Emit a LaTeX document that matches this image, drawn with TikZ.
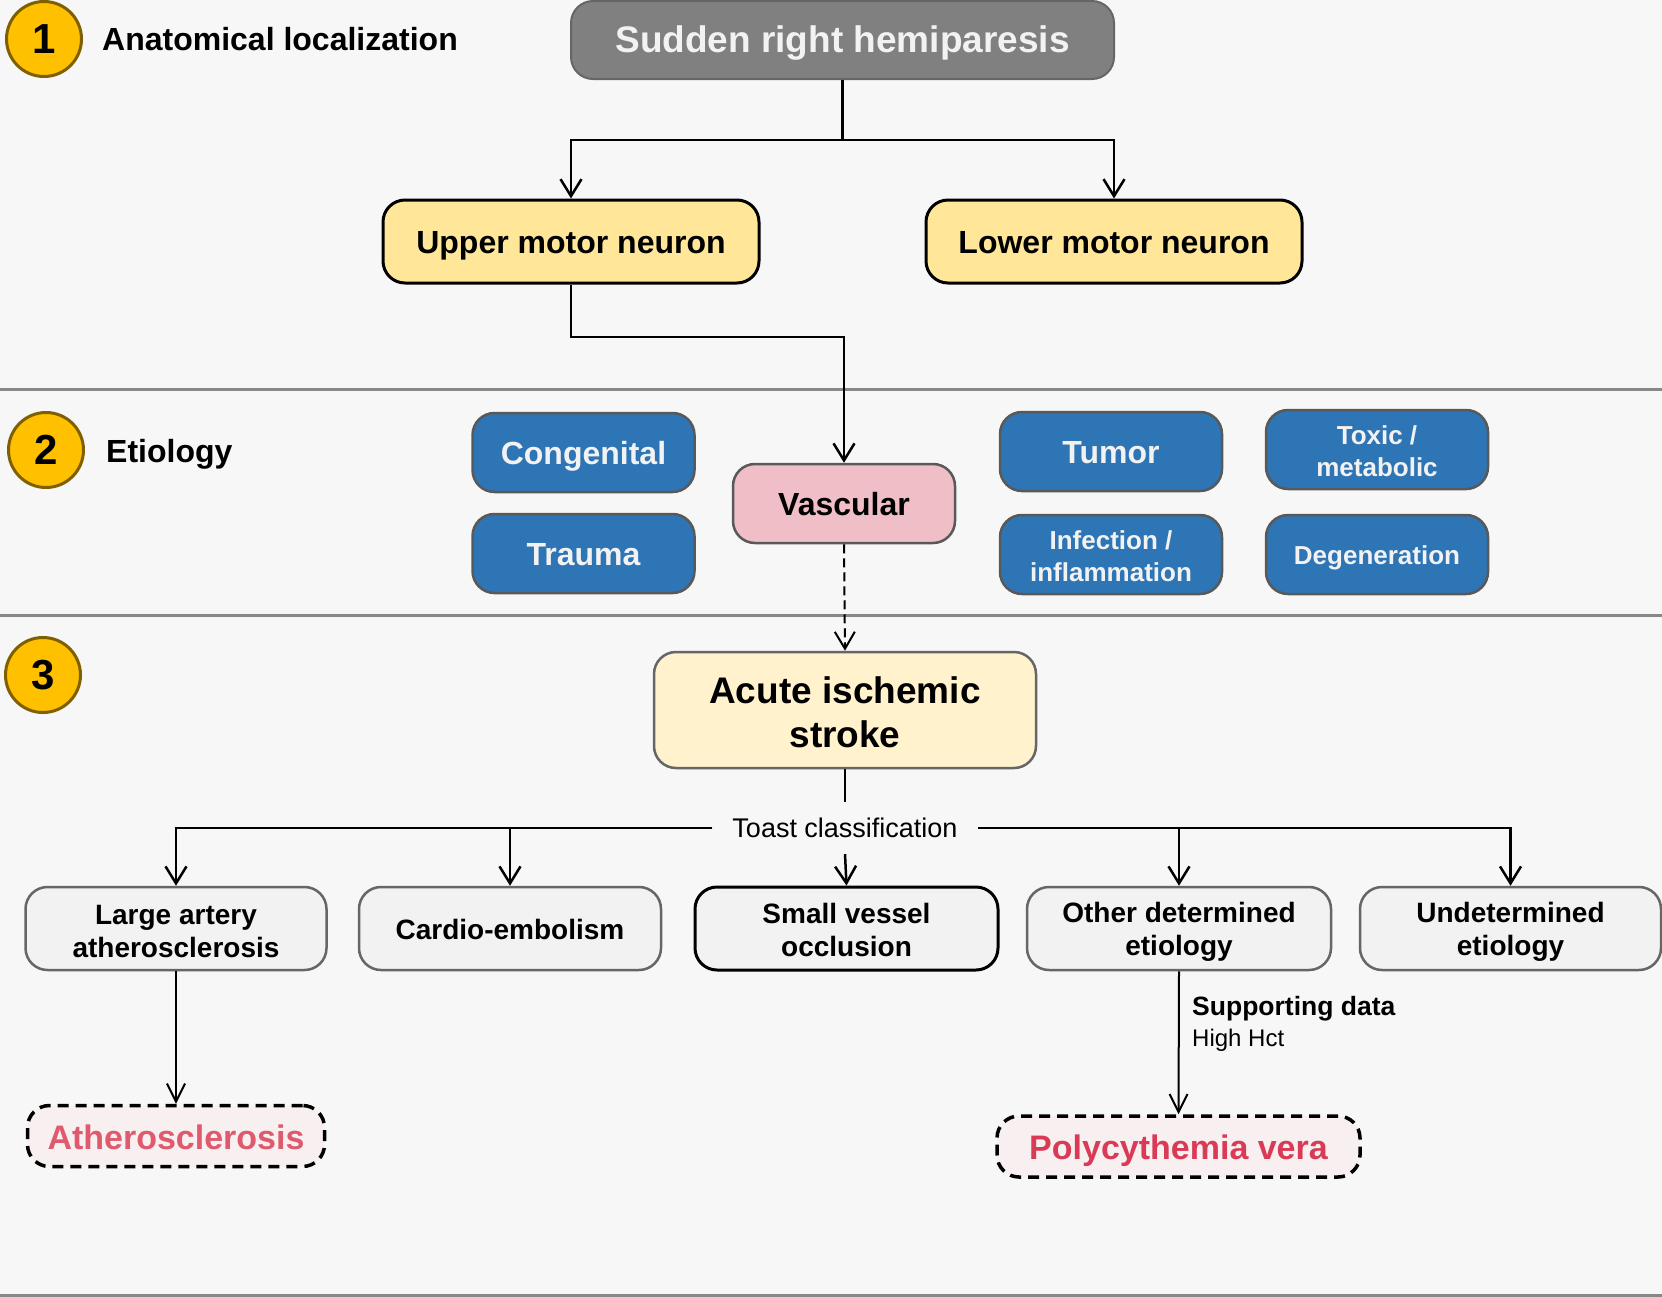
\documentclass[tikz,border=0pt]{standalone}
\usepackage{fontspec}
\setmainfont{Liberation Sans}
\usetikzlibrary{arrows.meta}

\definecolor{paper}{HTML}{F7F7F7}
\definecolor{rule}{HTML}{888888}
\definecolor{badgefill}{HTML}{FFC000}
\definecolor{badgeline}{HTML}{7F6000}
\definecolor{greybox}{HTML}{808080}
\definecolor{greyline}{HTML}{666666}
\definecolor{neuron}{HTML}{FFE699}
\definecolor{vasc}{HTML}{F0BEC6}
\definecolor{bluebox}{HTML}{2E75B6}
\definecolor{darkline}{HTML}{595959}
\definecolor{stroke}{HTML}{FFF2CC}
\definecolor{toast}{HTML}{F2F2F2}
\definecolor{dxfill}{HTML}{F7EFF0}
\definecolor{athred}{HTML}{E05A6E}
\definecolor{polyred}{HTML}{D93A56}
\definecolor{lighttext}{HTML}{F2F2F2}

% invisible strut that deepens the first line of a two-line label
\newcommand\firstline[1]{\rule{0pt}{#1em}}

\begin{document}
\begin{tikzpicture}[x=1pt,y=-1pt,
  box/.style={draw, rounded corners=22pt, align=center, inner sep=0pt},
  % single-line labels: centre the capitals, ignore descenders
  oneline/.style={text height=#1, text depth=0pt},
  badge/.style={circle, draw=badgeline, fill=badgefill, line width=3pt,
    minimum size=75pt, inner sep=0pt,
    font=\bfseries\fontsize{42}{50}\selectfont},
  heading/.style={anchor=base west, inner sep=0pt, font=\bfseries\fontsize{32}{38}\selectfont},
  topbox/.style={box, oneline=25.5pt, fill=greybox, draw=greyline, line width=2pt,
    minimum width=543pt, minimum height=78pt, text=lighttext,
    font=\bfseries\fontsize{37}{44}\selectfont},
  neuronbox/.style={box, oneline=24.8pt, fill=neuron, draw=black, line width=3pt,
    minimum width=376pt, minimum height=83pt,
    font=\bfseries\fontsize{32}{38}\selectfont},
  causebox/.style={box, fill=bluebox, draw=darkline, line width=2.5pt,
    minimum width=222pt, minimum height=79pt, text=lighttext},
  bigcause/.style={causebox, oneline=24.8pt, font=\bfseries\fontsize{32}{38}\selectfont},
  smallcause/.style={causebox, font=\bfseries\fontsize{26}{32}\selectfont},
  vascbox/.style={box, oneline=24.8pt, fill=vasc, draw=darkline, line width=2.5pt,
    minimum width=222pt, minimum height=79pt,
    font=\bfseries\fontsize{32}{38}\selectfont},
  strokebox/.style={box, fill=stroke, draw=greyline, line width=2.5pt,
    minimum width=382pt, minimum height=116pt,
    font=\bfseries\fontsize{37}{44.5}\selectfont},
  toastbox/.style={box, fill=toast, draw=greyline, line width=2.5pt,
    minimum width=302pt, minimum height=83pt,
    font=\bfseries\fontsize{28}{33}\selectfont},
  dxbox/.style={box, oneline=26.4pt, fill=dxfill, draw=black, line width=3.5pt,
    dash pattern=on 11pt off 7pt, minimum height=61pt,
    font=\bfseries\fontsize{34}{40}\selectfont},
  link/.style={draw=black, line width=2.5pt},
  arr/.style={link, -{Straight Barb[length=17pt,width=21pt]}},
  thinarr/.style={draw=black, line width=2pt, -{Straight Barb[length=18pt,width=18pt]}},
  sep/.style={draw=rule, line width=3pt}
]
\fill[paper] (0,0) rectangle (1662,1296);
\useasboundingbox (0,0) rectangle (1662,1296);

% section rules
\draw[sep] (0,389) -- (1662,389);
\draw[sep] (0,615) -- (1662,615);
\draw[sep] (0,1295) -- (1662,1295);

% section 1: anatomical localization
\node[badge] (b1) at (44,39) {1};
\node[heading] (h1) at (102,50) {Anatomical localization};
\node[topbox] (top) at (842.5,40) {Sudden right hemiparesis};
\node[neuronbox] (umn) at (571,241.5) {Upper motor neuron};
\node[neuronbox] (lmn) at (1114,241.5) {Lower motor neuron};

\coordinate (split) at (842.5,140);
\draw[link] (top.south) -- (split);
\draw[arr] (split) -| (umn.north);
\draw[arr] (split) -| (lmn.north);

% section 2: etiology
\node[badge] (b2) at (46,450) {2};
\node[heading] (h2) at (106,462) {Etiology};
\node[bigcause] (cong) at (583.5,452.5) {Congenital};
\node[bigcause] (trauma) at (583.5,553.5) {Trauma};
\node[vascbox] (vasc) at (844,503.5) {Vascular};
\node[bigcause] (tumor) at (1111,451.5) {Tumor};
\node[smallcause] (toxic) at (1377,449.5) {\firstline{0.82}Toxic /\\metabolic};
\node[smallcause] (infect) at (1111,554.5) {\firstline{0.82}Infection /\\inflammation};
\node[smallcause, oneline=20.3pt] (degen) at (1377,554.5) {Degeneration};

\coordinate (bend) at (844,337);
\draw[arr] (umn.south) |- (bend) -- (vasc.north);

% section 3: stroke subtype
\node[badge] (b3) at (43,675) {3};
\node[strokebox] (acute) at (845,710) {\firstline{0.84}Acute ischemic\\stroke};
\draw[draw=black, line width=2pt, dash pattern=on 9pt off 5pt,
  -{Straight Barb[length=17pt,width=20pt]}] (vasc.south) -- (acute.north);

\node[inner xsep=20pt, inner ysep=0pt, minimum height=52pt,
  font=\fontsize{27}{32}\selectfont] (cls) at (845,828) {Toast classification};
\draw[link] (acute.south) -- (cls.north);

\node[toastbox, minimum width=301pt] (lar) at (176,928.5) {\firstline{0.87}Large artery\\atherosclerosis};
\node[toastbox, oneline=21.8pt] (cardio) at (510,928.5) {Cardio-embolism};
\node[toastbox, draw=black, line width=3pt, minimum width=303pt] (svo) at (846.5,928.5) {\firstline{0.82}Small vessel\\occlusion};
\node[toastbox, minimum width=304pt] (other) at (1179,928.5) {\firstline{0.94}Other determined\\etiology};
\node[toastbox, minimum width=301pt] (undet) at (1510.5,928.5) {\firstline{0.94}Undetermined\\etiology};

\draw[arr] (cls.west) -| (lar.north);
\draw[arr] (cls.west) -| (cardio.north);
\draw[arr] (cls.south) -- (svo.north);
\draw[arr] (cls.east) -| (other.north);
\draw[arr] (cls.east) -| (undet.north);

% final diagnoses
\node[dxbox, text=athred, minimum width=297pt] (ath) at (176,1136) {Atherosclerosis};
\node[dxbox, text=polyred, minimum width=363pt] (poly) at (1178.5,1146.5) {Polycythemia vera};

\draw[thinarr] (lar.south) -- (ath.north);
\draw[thinarr] (other.south) -- (poly.north);
\node[anchor=base west, inner sep=0pt, font=\bfseries\fontsize{26.5}{31}\selectfont]
  (sd) at (1192,1015) {Supporting data};
\node[anchor=base west, inner sep=0pt, font=\fontsize{24}{29}\selectfont]
  (hct) at (1192,1046) {High Hct};
\end{tikzpicture}
\end{document}
